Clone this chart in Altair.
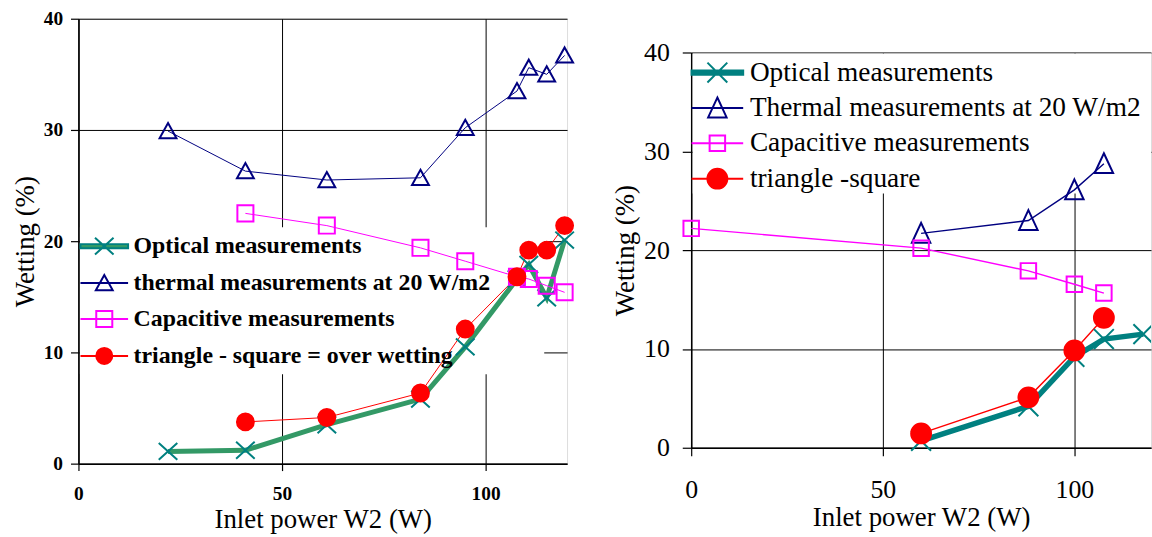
import altair as alt
import pandas as pd

FONT = "Liberation Serif"

# ---------------- left panel data ----------------
left_series = ["Optical measurements", "thermal measurements at 20 W/m2",
               "Capacitive measurements", "\u00a0triangle - square = over wetting"]
left_power = [22, 41, 61, 84, 95, 107.7, 110.6, 115, 119.4]
left_optical = [1.1, 1.2, 3.5, 5.8, 10.5, 16.6, 17.9, 14.9, 20.1]
left_thermal = [29.9, 26.3, 25.5, 25.7, 30.2, 33.5, 35.6, 35.0, 36.7]
left_capacitive = [None, 22.5, 21.4, 19.4, 18.2, 16.8, 16.6, 16.0, 15.4]
left_over = [None, 3.75, 4.15, 6.35, 12.1, 16.8, 19.2, 19.2, 21.4]

# ---------------- right panel data ----------------
right_series = ["Optical measurements", "Thermal measurements at 20 W/m2",
                "Capacitive measurements", "triangle -square"]
right_power = [0, 60, 88, 100, 107.7, 118]
right_optical = [None, 0.7, 4.2, 9.2, 11.0, 11.5]
right_thermal = [None, 21.7, 23.0, 26.1, 28.75, None]
right_capacitive = [22.2, 20.2, 17.9, 16.55, 15.65, None]
right_over = [None, 1.45, 5.1, 9.85, 13.15, None]

x_ticks = [0, 50, 100]
y_ticks = [0, 10, 20, 30, 40]


def to_long(series, power, cols):
    rows = []
    for name, vals in zip(series, cols):
        for p, v in zip(power, vals):
            if v is not None:
                rows.append({"series": name, "power": p, "wetting": v})
    return pd.DataFrame(rows)


def panel(df, series, *, line_colors, line_widths, marker_stroke, marker_fill,
          shapes, legend_shapes, legend_stroke, legend_fill, size,
          tick_font_size, tick_weight, legend_font_size, legend_weight,
          legend_x, legend_y, legend_row_pad, legend_label_offset,
          x_tick, x_label_pad, x_title_pad, y_tick, y_label_pad, y_title_pad,
          box, clip_from):
    xs = alt.Scale(domain=[0, 120], nice=False, zero=False)
    ys = alt.Scale(domain=[0, 40], nice=False)
    common = dict(grid=True, gridColor="black", gridWidth=1, gridOpacity=1,
                  domainColor="black", domainWidth=1.5, tickColor="black",
                  tickWidth=1.2, labelFont=FONT, labelColor="black",
                  labelFontSize=tick_font_size, labelFontWeight=tick_weight,
                  titleFont=FONT, titleFontSize=27, titleFontWeight="normal",
                  titleColor="black")
    x_axis = alt.Axis(values=x_ticks, tickSize=x_tick, labelPadding=x_label_pad,
                      labelFlush=False, title="Inlet power W2 (W)",
                      titlePadding=x_title_pad, **common)
    y_axis = alt.Axis(values=y_ticks, tickSize=y_tick, labelPadding=y_label_pad,
                      title="Wetting (%)", titlePadding=y_title_pad, **common)

    # white panel behind the legend (hides the grid there, data stays on top)
    bg = alt.Chart(pd.DataFrame({"k": [0]})).mark_rect(color="white").encode(
        x=alt.value(box[0]), x2=alt.value(box[1]),
        y=alt.value(box[2]), y2=alt.value(box[3]))

    base = alt.Chart(df)
    lines = base.mark_line(clip=clip_from is not None).encode(
        x=alt.X("power:Q", scale=xs, axis=x_axis),
        y=alt.Y("wetting:Q", scale=ys, axis=y_axis),
        color=alt.Color("series:N", scale=alt.Scale(domain=series, range=line_colors), legend=None),
        strokeWidth=alt.StrokeWidth("series:N", scale=alt.Scale(type="ordinal", domain=series, range=line_widths), legend=None),
    )

    def point_layer(clip):
        return base.mark_point(filled=True, opacity=1, strokeWidth=2, size=size, clip=clip).encode(
            x=alt.X("power:Q", scale=xs),
            y=alt.Y("wetting:Q", scale=ys),
            shape=alt.Shape("series:N", scale=alt.Scale(domain=series, range=shapes), legend=None),
            stroke=alt.Stroke("series:N", scale=alt.Scale(domain=series, range=marker_stroke), legend=None),
            fill=alt.Fill("series:N", scale=alt.Scale(domain=series, range=marker_fill), legend=None),
        )

    if clip_from is None:
        point_layers = [point_layer(False)]
    else:
        point_layers = [point_layer(False).transform_filter(f"datum.power < {clip_from}"),
                        point_layer(True).transform_filter(f"datum.power >= {clip_from}")]

    leg = alt.Legend(title=None, orient="none", legendX=legend_x, legendY=legend_y,
                     padding=0, rowPadding=legend_row_pad, labelOffset=legend_label_offset,
                     labelFont=FONT, labelFontSize=legend_font_size,
                     labelFontWeight=legend_weight, labelColor="black", labelLimit=900,
                     symbolSize=size, symbolStrokeWidth=2, symbolOpacity=1)
    legend_layer = alt.Chart(pd.DataFrame({"series": series})).mark_point(
        filled=True, opacity=0, strokeWidth=2, size=size).encode(
        shape=alt.Shape("series:N", scale=alt.Scale(domain=series, range=legend_shapes), legend=leg),
        stroke=alt.Stroke("series:N", scale=alt.Scale(domain=series, range=legend_stroke), legend=leg),
        fill=alt.Fill("series:N", scale=alt.Scale(domain=series, range=legend_fill), legend=leg),
    )
    return alt.layer(bg, lines, *point_layers, legend_layer).resolve_scale(
        shape="independent", stroke="independent", fill="independent")


NAVY, MAG, RED, TEAL, GREEN = "#000080", "#FF00FF", "#FF0000", "#008080", "#339966"

left_df = to_long(left_series, left_power, [left_optical, left_thermal, left_capacitive, left_over])
right_df = to_long(right_series, right_power, [right_optical, right_thermal, right_capacitive, right_over])

L = 2.82
left = panel(
    left_df, left_series,
    line_colors=[GREEN, NAVY, MAG, RED], line_widths=[5, 1, 1, 1],
    marker_stroke=[TEAL, NAVY, MAG, RED],
    marker_fill=["transparent", "transparent", "transparent", RED],
    shapes=["M-1.1,-1L1.1,1M-1.1,1L1.1,-1", "M0,-0.95L1,0.85L-1,0.85Z",
            "M-0.95,-0.95H0.95V0.95H-0.95Z", "circle"],
    legend_shapes=[f"M-{L},-0.24H{L}V0.24H-{L}Z M-1.1,-1L1.1,1M-1.1,1L1.1,-1",
                   f"M-{L},0H{L} M0,-0.95L1,0.85L-1,0.85Z",
                   f"M-{L},0H{L} M-0.95,-0.95H0.95V0.95H-0.95Z",
                   f"M-{L},0H{L} M0.95,0A0.95,0.95,0,1,1,-0.95,0A0.95,0.95,0,1,1,0.95,0Z"],
    legend_stroke=[TEAL, NAVY, MAG, RED],
    legend_fill=[GREEN, "transparent", "transparent", RED],
    size=289, tick_font_size=19.5, tick_weight="bold",
    legend_font_size=24, legend_weight="bold",
    legend_x=14, legend_y=217, legend_row_pad=11.2, legend_label_offset=17.5,
    x_tick=7, x_label_pad=14, x_title_pad=4, y_tick=8, y_label_pad=8, y_title_pad=4,
    box=[1.5, 469, 210, 358], clip_from=None,
).properties(width=492, height=448)

R = 2.6
right = panel(
    right_df, right_series,
    line_colors=[TEAL, NAVY, MAG, RED], line_widths=[5.5, 1.4, 1.4, 1.4],
    marker_stroke=[TEAL, NAVY, MAG, RED],
    marker_fill=["transparent", "transparent", "transparent", RED],
    shapes=["M-1,-1L1,1M-1,1L1,-1", "M0,-1.05L0.93,0.95L-0.93,0.95Z",
            "M-0.78,-0.78H0.78V0.78H-0.78Z", "circle"],
    legend_shapes=[f"M-{R},-0.22H{R}V0.22H-{R}Z M-1,-1L1,1M-1,1L1,-1",
                   f"M-{R},0H{R} M0,-1.05L0.93,0.95L-0.93,0.95Z",
                   f"M-{R},0H{R} M-0.78,-0.78H0.78V0.78H-0.78Z",
                   f"M-{R},0H{R} M1,0A1,1,0,1,1,-1,0A1,1,0,1,1,1,0Z"],
    legend_stroke=[TEAL, NAVY, MAG, RED],
    legend_fill=[TEAL, "transparent", "transparent", RED],
    size=400, tick_font_size=26, tick_weight="normal",
    legend_font_size=27.5, legend_weight="normal",
    legend_x=12.6, legend_y=6.5, legend_row_pad=6.6, legend_label_offset=19,
    x_tick=8, x_label_pad=21, x_title_pad=2, y_tick=9, y_label_pad=13, y_title_pad=4,
    box=[1.5, 463, 1, 142], clip_from=115,
).properties(width=463, height=398)

# empty band above the right panel (it sits lower than the left one)
spacer = alt.Chart(pd.DataFrame({"k": [0]})).mark_point(opacity=0).properties(
    width=463, height=19, view=alt.ViewBackground(stroke="transparent"))
right_col = alt.vconcat(spacer, right, spacing=0)

chart = alt.hconcat(left, right_col, spacing=32).resolve_scale(
    x="independent", y="independent", color="independent",
    strokeWidth="independent", shape="independent", stroke="independent",
    fill="independent",
).properties(
    padding={"left": 11, "top": 6, "right": 0, "bottom": 0}
).configure_view(stroke="#808080", strokeWidth=2).configure(background="white")

chart.save("out.html", embed_options={"renderer": "svg", "actions": False})
